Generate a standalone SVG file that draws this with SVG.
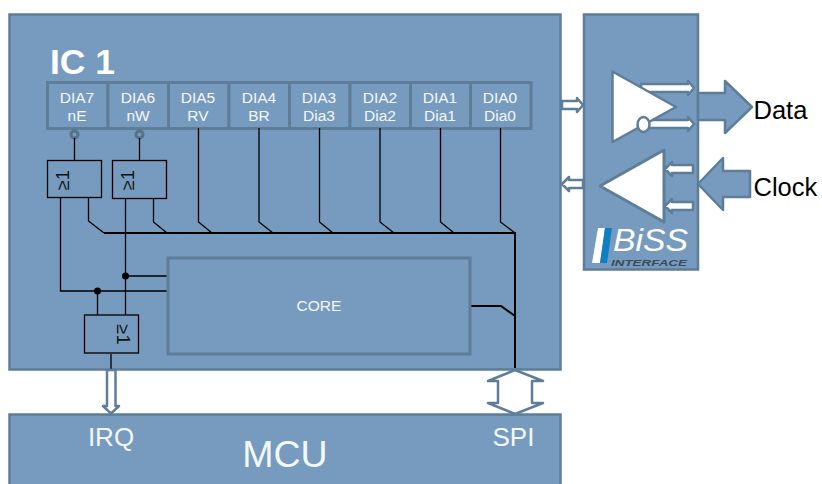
<svg xmlns="http://www.w3.org/2000/svg" width="822" height="484" viewBox="0 0 822 484">
<style>
.box{fill:#779bbe;stroke:#5e7d99;stroke-width:2.5}
.reg{fill:#779bbe;stroke:#5e7d99;stroke-width:3}
.w{fill:none;stroke:#000;stroke-width:1.3}
.wb{fill:none;stroke:#000;stroke-width:2}
.gate{fill:#779bbe;stroke:#000;stroke-width:1.3}
.arr{fill:#fff;stroke:#5e7d99;stroke-width:2.5;stroke-linejoin:round}
.fat{fill:#779bbe;stroke:#5e7d99;stroke-width:2.5;stroke-linejoin:round}
text{font-family:"Liberation Sans",Arial,sans-serif}
.lab{font-size:15.5px;fill:#f4f7fa;text-anchor:middle}
.g1{font-size:18px;fill:#111;text-anchor:middle}
.ext{font-size:25.500px;fill:#000}
</style>
<g id="ic1">
<rect class="box" x="9.500" y="14.500" width="551" height="355"/>
<text x="50" y="74" font-size="35.500" font-weight="bold" fill="#fff">IC 1</text>
</g>
<g id="biss">
<rect class="box" x="584" y="14.500" width="114" height="255"/>
<path d="M592 263L598 228H605L600 263Z" fill="#fff"/>
<path d="M600 263L605 228H612L607 263Z" fill="#0d7fc2"/>
<text x="613" y="251" font-size="32" font-style="italic" fill="#fff" textLength="75" lengthAdjust="spacingAndGlyphs">BiSS</text>
<text x="611" y="266" font-size="9" font-weight="bold" font-style="italic" fill="#3c4a58" textLength="76" lengthAdjust="spacingAndGlyphs">INTERFACE</text>
</g>
<g id="arrows-between">
<path class="arr" d="M562 101H577V98L583 105L577 112V109H562Z"/>
<path class="arr" d="M583 180H569V177L562 184L569 191V188H583Z"/>
</g>
<g id="driver">
<path class="arr" d="M641 84H688V81L694 88L688 95V92H641Z"/>
<path class="arr" d="M645 120H688V117L694 124L688 131V128H645Z"/>
<path class="arr" d="M612.500 71.500L676 107L612.500 142Z" stroke-width="3"/>
<ellipse class="arr" cx="643.500" cy="124.500" rx="6" ry="7.500"/>
</g>
<g id="receiver">
<path class="arr" d="M693 165H672V162L665 169L672 176V173H693Z"/>
<path class="arr" d="M693 202H672V199L665 206L672 213V210H693Z"/>
<path d="M664 150V222L600 186Z" fill="#fff" stroke="#5e7d99" stroke-width="3" stroke-linejoin="round"/>
</g>
<g id="data-arrow">
<path class="fat" d="M698 93H725V81L752 107L725 133V120H698Z"/>
<text class="ext" x="753.500" y="118.500">Data</text>
</g>
<g id="clock-arrow">
<path class="fat" d="M750 171H723V158L698 184L723 210V197H750Z"/>
<text class="ext" x="753.500" y="195.500">Clock</text>
</g>
<g id="dia-register">
<g id="dia7"><rect class="reg" x="47.500" y="82.500" width="60.500" height="46"/><text class="lab" x="77" y="102.500">DIA7</text><text class="lab" x="77" y="120.500">nE</text></g>
<g id="dia6"><rect class="reg" x="108" y="82.500" width="60.500" height="46"/><text class="lab" x="138" y="102.500">DIA6</text><text class="lab" x="138" y="120.500">nW</text></g>
<g id="dia5"><rect class="reg" x="168.500" y="82.500" width="60.500" height="46"/><text class="lab" x="198" y="102.500">DIA5</text><text class="lab" x="198" y="120.500">RV</text></g>
<g id="dia4"><rect class="reg" x="229" y="82.500" width="60.500" height="46"/><text class="lab" x="259" y="102.500">DIA4</text><text class="lab" x="259" y="120.500">BR</text></g>
<g id="dia3"><rect class="reg" x="289.500" y="82.500" width="60.500" height="46"/><text class="lab" x="319" y="102.500">DIA3</text><text class="lab" x="319" y="120.500">Dia3</text></g>
<g id="dia2"><rect class="reg" x="350" y="82.500" width="60.500" height="46"/><text class="lab" x="380" y="102.500">DIA2</text><text class="lab" x="380" y="120.500">Dia2</text></g>
<g id="dia1"><rect class="reg" x="410.500" y="82.500" width="60" height="46"/><text class="lab" x="440" y="102.500">DIA1</text><text class="lab" x="440" y="120.500">Dia1</text></g>
<g id="dia0"><rect class="reg" x="470.500" y="82.500" width="60.500" height="46"/><text class="lab" x="500" y="102.500">DIA0</text><text class="lab" x="500" y="120.500">Dia0</text></g>
</g>
<g id="bubbles" fill="#779bbe" stroke="#56718b" stroke-width="3">
<circle cx="74.500" cy="134.500" r="3.500"/>
<circle cx="139.500" cy="134.500" r="3.500"/>
</g>
<g id="connectors">
<path class="w" d="M74.500 138V160M139.500 138V160"/>
<path class="w" d="M60.500 197V291H167M88.500 197V221L104 233M153.500 198V222L167 233M125.500 198V315M198.500 128V222L212 233M259 128V222L273 233M319.500 128V222L333 233M380 128V222L394 233M440.500 128V222L454 233M500.500 128V222L515 233M125.500 276H167M97.500 291V315"/>
<path class="wb" d="M104 233H515V368M471 306H501L515 316"/>
<path class="w" d="M111 354V369"/>
<circle cx="125.500" cy="276" r="3.500" fill="#000"/>
<circle cx="97.500" cy="291" r="3.500" fill="#000"/>
</g>
<g id="gate1"><rect class="gate" x="47.500" y="160.500" width="54" height="37"/><text class="g1" transform="translate(69,180) rotate(-90)">≥1</text></g>
<g id="gate2"><rect class="gate" x="112.500" y="160.500" width="54" height="38"/><text class="g1" transform="translate(134,180) rotate(-90)">≥1</text></g>
<g id="gate3"><rect class="gate" x="84.500" y="315" width="54" height="38"/><text class="g1" transform="translate(117,334.500) rotate(90)">≥1</text></g>
<g id="core"><rect class="reg" x="168" y="258" width="302" height="96"/><text x="319" y="311" font-size="15.500" fill="#f4f7fa" text-anchor="middle">CORE</text></g>
<g id="mcu">
<rect class="box" x="9.500" y="414.500" width="551" height="80"/>
<text x="111" y="446" font-size="26" fill="#f4f7fa" text-anchor="middle">IRQ</text>
<text x="513.500" y="446" font-size="26" fill="#f4f7fa" text-anchor="middle">SPI</text>
<text x="285" y="467" font-size="37.500" fill="#f4f7fa" text-anchor="middle">MCU</text>
</g>
<g id="irq-arrow"><path class="arr" d="M107 370H115.500V406H119L111 413.500L103 406H107Z"/></g>
<g id="spi-arrow"><path class="arr" d="M515 370L543 381H532V403H543L515 414L488 403H498V381H488Z"/></g>
</svg>
